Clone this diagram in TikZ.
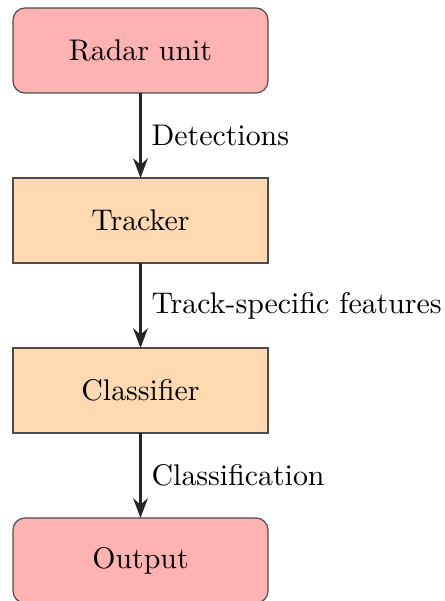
\documentclass[tikz,border=0pt]{standalone}
\usepackage{amssymb, amsmath}
\usetikzlibrary{positioning,arrows.meta}

\begin{document}
\begin{tikzpicture}
   \tikzset{EndStyle/.style = {rectangle, rounded corners, draw = black!70, fill = red!30, minimum width = 3cm, minimum height = 1cm, outer sep = 0pt}}
   \tikzset{StageStyle/.style = {rectangle, draw = black!70, fill = orange!30, minimum width = 3cm, minimum height = 1cm, outer sep = 0pt}}
   \tikzset{FlowStyle/.style = {->, >=Stealth, thick, black!85}}
   \useasboundingbox (-1.653,0.594) rectangle (3.571,-6.477);
   \node[EndStyle] (radar) at (0,0) {Radar unit};
   \node[StageStyle, below=1cm of radar] (tracker) {Tracker};
   \node[StageStyle, below=1cm of tracker] (classifier) {Classifier};
   \node[EndStyle, below=1cm of classifier] (output) {Output};

%   arrows between the stages
   \draw[FlowStyle] (radar) -- node[right, black] {Detections} (tracker);
   \draw[FlowStyle] (tracker) -- node[right, black] {Track-specific features} (classifier);
   \draw[FlowStyle] (classifier) -- node[right, black] {Classification} (output);

\end{tikzpicture}
\end{document}
